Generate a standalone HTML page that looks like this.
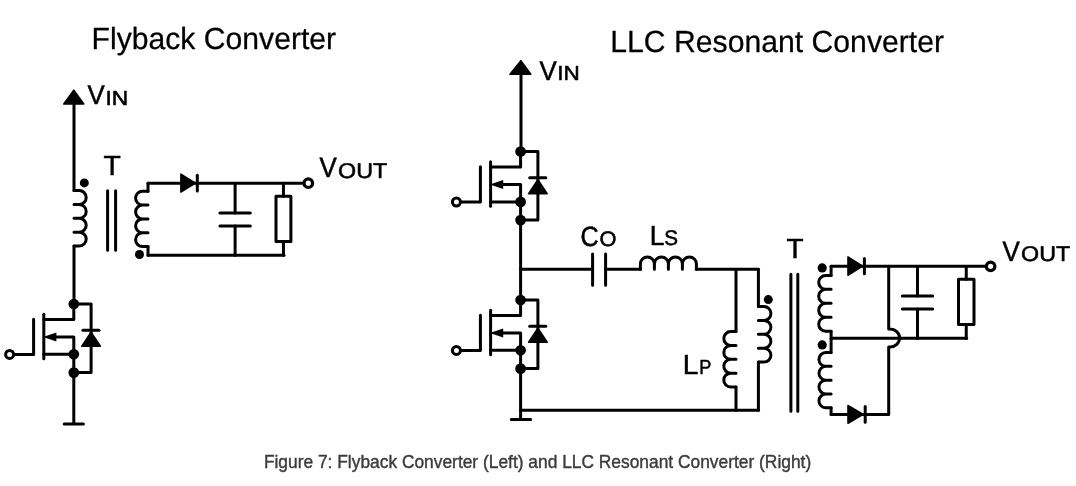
<!DOCTYPE html>
<html><head><meta charset="utf-8"><style>
html,body{margin:0;padding:0;background:#fff;width:1076px;height:486px;overflow:hidden}
svg{position:absolute;left:0;top:0;will-change:transform}
text{font-family:"Liberation Sans",sans-serif;fill:#000;stroke:#000;stroke-width:0;text-rendering:geometricPrecision}
text.cp{fill:#3c3c3c;stroke:#3c3c3c;text-rendering:auto}
</style></head><body>
<svg width="1076" height="486" viewBox="0 0 1076 486" stroke-linecap="round" stroke-linejoin="round">
<polygon points="73.80,90.20 63.80,104.00 83.80,104.00" fill="#000" stroke="#000" stroke-width="1.6" stroke-linejoin="round"/>
<path d="M74,104 V190.6" fill="none" stroke="#000" stroke-width="3.0"/>
<path d="M74.00,190.60 M74.00,190.60 H79.28 A6.92,6.92 0 0 1 79.28,204.45 H74.00 M74.00,204.45 H79.28 A6.92,6.92 0 0 1 79.28,218.30 H74.00 M74.00,218.30 H79.28 A6.92,6.92 0 0 1 79.28,232.15 H74.00 M74.00,232.15 H79.28 A6.92,6.92 0 0 1 79.28,246.00 H74.00" fill="none" stroke="#000" stroke-width="3.0" stroke-linecap="round"/>
<path d="M74,246.0 V304" fill="none" stroke="#000" stroke-width="3.0"/>
<circle cx="84.30" cy="182.90" r="4.5" fill="#000"/>
<path d="M107.6,190.7 V250.3 M115.6,190.7 V250.3" fill="none" stroke="#000" stroke-width="3.0"/>
<path d="M148.00,191.20 M148.00,191.20 H142.53 A6.92,6.92 0 0 0 142.53,205.05 H148.00 M148.00,205.05 H142.53 A6.92,6.92 0 0 0 142.53,218.90 H148.00 M148.00,218.90 H142.53 A6.92,6.92 0 0 0 142.53,232.75 H148.00 M148.00,232.75 H142.53 A6.92,6.92 0 0 0 142.53,246.60 H148.00" fill="none" stroke="#000" stroke-width="3.0" stroke-linecap="round"/>
<path d="M148.0,183.2 V191.2 M148.0,246.6 V255.3" fill="none" stroke="#000" stroke-width="3.0"/>
<circle cx="139.50" cy="254.50" r="4.5" fill="#000"/>
<path d="M148.0,183.2 H304" fill="none" stroke="#000" stroke-width="3.0"/>
<polygon points="180.90,174.08 180.90,192.12 195.42,183.10" fill="#000" stroke="#000" stroke-width="1.6" stroke-linejoin="round"/>
<path d="M197.30,175.20 V190.90" fill="none" stroke="#000" stroke-width="3.0" stroke-linecap="round"/>
<path d="M148.0,255.3 H284" fill="none" stroke="#000" stroke-width="3.0"/>
<path d="M235.10,183.20 V213.00 M235.10,226.00 V255.30" fill="none" stroke="#000" stroke-width="3.0"/>
<path d="M219.90,213.00 H250.30 M219.90,226.00 H250.30" fill="none" stroke="#000" stroke-width="3.0" stroke-linecap="round"/>
<rect x="276.00" y="196.20" width="14.90" height="45.30" fill="none" stroke="#000" stroke-width="3.0"/>
<path d="M283.45,183.20 V196.20 M283.45,241.50 V255.30" fill="none" stroke="#000" stroke-width="3.0"/>
<circle cx="308.30" cy="183.20" r="4.25" fill="#fff" stroke="#000" stroke-width="3.3"/>
<path d="M73.80,304.00 H91.10 V372.60 H73.80" fill="none" stroke="#000" stroke-width="3.0"/>
<polygon points="91.10,332.08 81.83,346.20 100.37,346.20" fill="#000" stroke="#000" stroke-width="1.6" stroke-linejoin="round"/>
<path d="M82.90,330.20 H99.00" fill="none" stroke="#000" stroke-width="3.0" stroke-linecap="round"/>
<path d="M73.80,304.00 V319.40 H43.80" fill="none" stroke="#000" stroke-width="3.0"/>
<path d="M43.80,314.30 V358.80" fill="none" stroke="#000" stroke-width="3.0"/>
<path d="M13.80,354.40 H33.60 V319.20" fill="none" stroke="#000" stroke-width="3.0"/>
<circle cx="9.60" cy="354.40" r="4.0" fill="#fff" stroke="#000" stroke-width="3.0"/>
<path d="M55.80,337.00 H73.80 V354.30" fill="none" stroke="#000" stroke-width="3.0"/>
<polygon points="43.00,337.00 56.40,332.50 56.40,341.50" fill="#000"/>
<path d="M43.80,354.30 H73.80 V372.60" fill="none" stroke="#000" stroke-width="3.0"/>
<circle cx="73.80" cy="304.00" r="5.35" fill="#000"/>
<circle cx="73.80" cy="354.30" r="5.35" fill="#000"/>
<circle cx="73.80" cy="372.60" r="5.35" fill="#000"/>
<path d="M73.8,372.6 V423.9 M64.2,423.9 H83.4" fill="none" stroke="#000" stroke-width="3.0"/>
<polygon points="520.90,60.70 510.00,74.30 530.80,74.30" fill="#000" stroke="#000" stroke-width="1.6" stroke-linejoin="round"/>
<path d="M521.0,74 V147" fill="none" stroke="#000" stroke-width="3.0"/>
<path d="M520.60,151.50 H537.90 V220.10 H520.60" fill="none" stroke="#000" stroke-width="3.0"/>
<polygon points="537.90,179.58 528.63,193.70 547.17,193.70" fill="#000" stroke="#000" stroke-width="1.6" stroke-linejoin="round"/>
<path d="M529.70,177.70 H545.80" fill="none" stroke="#000" stroke-width="3.0" stroke-linecap="round"/>
<path d="M520.60,151.50 V166.90 H490.60" fill="none" stroke="#000" stroke-width="3.0"/>
<path d="M490.60,161.80 V206.30" fill="none" stroke="#000" stroke-width="3.0"/>
<path d="M460.60,202.00 H480.40 V166.70" fill="none" stroke="#000" stroke-width="3.0"/>
<circle cx="456.40" cy="202.00" r="4.0" fill="#fff" stroke="#000" stroke-width="3.0"/>
<path d="M502.60,184.50 H520.60 V201.90" fill="none" stroke="#000" stroke-width="3.0"/>
<polygon points="489.80,184.50 503.20,180.00 503.20,189.00" fill="#000"/>
<path d="M490.60,201.90 H520.60 V220.10" fill="none" stroke="#000" stroke-width="3.0"/>
<circle cx="520.60" cy="151.50" r="5.35" fill="#000"/>
<circle cx="520.60" cy="201.90" r="5.35" fill="#000"/>
<circle cx="520.60" cy="220.10" r="5.35" fill="#000"/>
<path d="M520.6,220 V300" fill="none" stroke="#000" stroke-width="3.0"/>
<path d="M520.6,269.2 H592.6 M605.6,269.2 H640.4" fill="none" stroke="#000" stroke-width="3.0"/>
<path d="M592.6,254.0 V285.2 M605.6,254.0 V285.2" fill="none" stroke="#000" stroke-width="3.0" stroke-linecap="round"/>
<path d=" M640.40,269.20 V264.00 A7.00,7.00 0 0 1 654.40,264.00 V269.20 M654.40,269.20 V264.00 A7.00,7.00 0 0 1 668.40,264.00 V269.20 M668.40,269.20 V264.00 A7.00,7.00 0 0 1 682.40,264.00 V269.20 M682.40,269.20 V264.00 A7.00,7.00 0 0 1 696.40,264.00 V269.20" fill="none" stroke="#000" stroke-width="3.0" stroke-linecap="round"/>
<path d="M696.4,269.2 H758.4" fill="none" stroke="#000" stroke-width="3.0"/>
<path d="M736,269.2 V331.6" fill="none" stroke="#000" stroke-width="3.0"/>
<path d="M736.00,331.60 M736.00,331.60 H730.73 A6.92,6.92 0 0 0 730.73,345.45 H736.00 M736.00,345.45 H730.73 A6.92,6.92 0 0 0 730.73,359.30 H736.00 M736.00,359.30 H730.73 A6.92,6.92 0 0 0 730.73,373.15 H736.00 M736.00,373.15 H730.73 A6.92,6.92 0 0 0 730.73,387.00 H736.00" fill="none" stroke="#000" stroke-width="3.0" stroke-linecap="round"/>
<path d="M736,387.0 V410.3" fill="none" stroke="#000" stroke-width="3.0"/>
<path d="M758.4,269.2 V306.5" fill="none" stroke="#000" stroke-width="3.0"/>
<path d="M758.40,306.50 M758.40,306.50 H763.95 A6.95,6.95 0 0 1 763.95,320.40 H758.40 M758.40,320.40 H763.95 A6.95,6.95 0 0 1 763.95,334.30 H758.40 M758.40,334.30 H763.95 A6.95,6.95 0 0 1 763.95,348.20 H758.40 M758.40,348.20 H763.95 A6.95,6.95 0 0 1 763.95,362.10 H758.40" fill="none" stroke="#000" stroke-width="3.0" stroke-linecap="round"/>
<path d="M758.4,362.1 V410.3" fill="none" stroke="#000" stroke-width="3.0"/>
<circle cx="768.30" cy="299.60" r="4.5" fill="#000"/>
<path d="M520.6,410.3 H758.4" fill="none" stroke="#000" stroke-width="3.0"/>
<path d="M520.60,300.00 H537.90 V368.60 H520.60" fill="none" stroke="#000" stroke-width="3.0"/>
<polygon points="537.90,328.08 528.63,342.20 547.17,342.20" fill="#000" stroke="#000" stroke-width="1.6" stroke-linejoin="round"/>
<path d="M529.70,326.20 H545.80" fill="none" stroke="#000" stroke-width="3.0" stroke-linecap="round"/>
<path d="M520.60,300.00 V315.40 H490.60" fill="none" stroke="#000" stroke-width="3.0"/>
<path d="M490.60,310.30 V354.80" fill="none" stroke="#000" stroke-width="3.0"/>
<path d="M460.60,350.40 H480.40 V315.20" fill="none" stroke="#000" stroke-width="3.0"/>
<circle cx="456.40" cy="350.40" r="4.0" fill="#fff" stroke="#000" stroke-width="3.0"/>
<path d="M502.60,333.00 H520.60 V350.30" fill="none" stroke="#000" stroke-width="3.0"/>
<polygon points="489.80,333.00 503.20,328.50 503.20,337.50" fill="#000"/>
<path d="M490.60,350.30 H520.60 V368.60" fill="none" stroke="#000" stroke-width="3.0"/>
<circle cx="520.60" cy="300.00" r="5.35" fill="#000"/>
<circle cx="520.60" cy="350.30" r="5.35" fill="#000"/>
<circle cx="520.60" cy="368.60" r="5.35" fill="#000"/>
<path d="M520.6,368 V419.5 M511.3,419.5 H530.6" fill="none" stroke="#000" stroke-width="3.0"/>
<path d="M790.9,274.3 V411.3 M797.8,274.3 V411.3" fill="none" stroke="#000" stroke-width="3.0"/>
<path d="M831.10,275.40 M831.10,275.40 H825.68 A6.97,6.97 0 0 0 825.68,289.35 H831.10 M831.10,289.35 H825.68 A6.97,6.97 0 0 0 825.68,303.30 H831.10 M831.10,303.30 H825.68 A6.97,6.97 0 0 0 825.68,317.25 H831.10 M831.10,317.25 H825.68 A6.97,6.97 0 0 0 825.68,331.20 H831.10" fill="none" stroke="#000" stroke-width="3.0" stroke-linecap="round"/>
<path d="M831.1,266.2 V275.4 M831.1,331.2 V352.5" fill="none" stroke="#000" stroke-width="3.0"/>
<path d="M831.10,352.50 M831.10,352.50 H825.62 A6.92,6.92 0 0 0 825.62,366.33 H831.10 M831.10,366.33 H825.62 A6.92,6.92 0 0 0 825.62,380.16 H831.10 M831.10,380.16 H825.62 A6.92,6.92 0 0 0 825.62,393.99 H831.10 M831.10,393.99 H825.62 A6.92,6.92 0 0 0 825.62,407.82 H831.10" fill="none" stroke="#000" stroke-width="3.0" stroke-linecap="round"/>
<path d="M831.1,407.8 V414.5" fill="none" stroke="#000" stroke-width="3.0"/>
<circle cx="822.20" cy="267.90" r="4.6" fill="#000"/>
<circle cx="822.20" cy="344.90" r="4.6" fill="#000"/>
<path d="M831.1,266.2 H990" fill="none" stroke="#000" stroke-width="3.0"/>
<polygon points="848.00,256.88 848.00,275.32 862.62,266.10" fill="#000" stroke="#000" stroke-width="1.6" stroke-linejoin="round"/>
<path d="M864.40,258.40 V273.80" fill="none" stroke="#000" stroke-width="3.0" stroke-linecap="round"/>
<path d="M888.7,266.2 V328.9 H890 A9.6,9.05 0 0 1 890,347 H888.7 V414.5 H831.1" fill="none" stroke="#000" stroke-width="3.0"/>
<polygon points="848.00,405.48 848.00,423.32 863.22,414.40" fill="#000" stroke="#000" stroke-width="1.6" stroke-linejoin="round"/>
<path d="M865.20,406.40 V422.20" fill="none" stroke="#000" stroke-width="3.0" stroke-linecap="round"/>
<path d="M831.1,338.3 H966.6" fill="none" stroke="#000" stroke-width="3.0"/>
<path d="M917.50,266.40 V295.90 M917.50,309.00 V338.40" fill="none" stroke="#000" stroke-width="3.0"/>
<path d="M902.35,295.90 H932.65 M902.35,309.00 H932.65" fill="none" stroke="#000" stroke-width="3.0" stroke-linecap="round"/>
<rect x="958.50" y="279.30" width="15.50" height="45.30" fill="none" stroke="#000" stroke-width="3.0"/>
<path d="M966.25,266.40 V279.30 M966.25,324.60 V338.40" fill="none" stroke="#000" stroke-width="3.0"/>
<circle cx="990.60" cy="266.30" r="4.25" fill="#fff" stroke="#000" stroke-width="3.3"/>
<text transform="translate(91.55,48.67) scale(1.0047,1.0187)" font-size="30" style="stroke-width:0.25px">Flyback Converter</text>
<text transform="translate(610.29,51.68) scale(1.0056,1.0196)" font-size="30" style="stroke-width:0.25px">LLC Resonant Converter</text>
<text transform="translate(87.57,104.47) scale(0.9942,1.0389)" font-size="26" style="stroke-width:0.5px">V</text>
<text transform="translate(105.42,104.53) scale(1.1965,1.0655)" font-size="19" style="stroke-width:0.5px">IN</text>
<text transform="translate(539.49,80.48) scale(0.9940,1.0400)" font-size="26" style="stroke-width:0.5px">V</text>
<text transform="translate(557.29,80.44) scale(1.1852,1.0757)" font-size="19" style="stroke-width:0.5px">IN</text>
<text transform="translate(319.42,177.44) scale(0.9583,1.0316)" font-size="27" style="stroke-width:0.5px">V</text>
<text transform="translate(338.11,177.66) scale(1.1628,1.0629)" font-size="20" style="stroke-width:0.5px">OUT</text>
<text transform="translate(1002.42,260.54) scale(0.9583,1.0316)" font-size="27" style="stroke-width:0.5px">V</text>
<text transform="translate(1021.11,260.76) scale(1.1628,1.0629)" font-size="20" style="stroke-width:0.5px">OUT</text>
<text transform="translate(103.54,174.98) scale(1.0497,1.0244)" font-size="27" style="stroke-width:0.5px">T</text>
<text transform="translate(786.56,258.18) scale(1.0328,1.0244)" font-size="27" style="stroke-width:0.5px">T</text>
<text transform="translate(580.60,245.63) scale(0.9302,1.0353)" font-size="27" style="stroke-width:0.5px">C</text>
<text transform="translate(599.55,245.75) scale(1.0896,1.0552)" font-size="20" style="stroke-width:0.5px">O</text>
<text transform="translate(649.67,244.81) scale(0.9818,1.0227)" font-size="27" style="stroke-width:0.5px">L</text>
<text transform="translate(664.37,244.84) scale(1.0330,1.0528)" font-size="20" style="stroke-width:0.5px">S</text>
<text transform="translate(682.76,373.71) scale(1.0439,1.0279)" font-size="27" style="stroke-width:0.5px">L</text>
<text transform="translate(699.18,373.79) scale(0.9052,1.0163)" font-size="20" style="stroke-width:0.5px">P</text>
<text class="cp" transform="translate(263.89,467.74) scale(0.9931,1.0400)" font-size="17.5" style="stroke-width:0.4px">Figure 7: Flyback Converter (Left) and LLC Resonant Converter (Right)</text>
</svg>
</body></html>
